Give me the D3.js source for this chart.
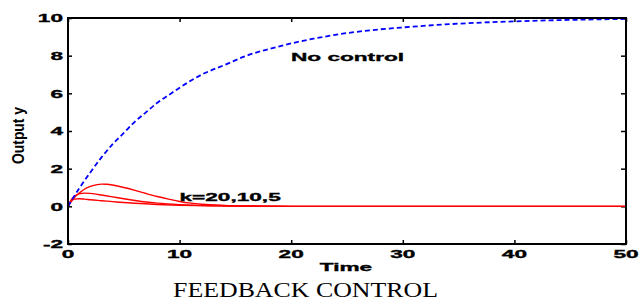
<!DOCTYPE html>
<html>
<head>
<meta charset="utf-8">
<script src="https://cdn.jsdelivr.net/npm/d3@7"></script>
<style>
  body { margin: 0; background: #fff; }
  svg { display: block; }
</style>
</head>
<body>
<div id="chart"></div>
<script>
// data
var noCtrlT = [0, 1, 2, 3, 4, 5, 6, 7, 8, 9, 10, 12, 14, 16, 18, 20, 22, 25, 28, 30, 35, 40, 45, 50];
var noCtrlY = [0, 0.95, 1.8, 2.6, 3.3, 3.9, 4.5, 5.0, 5.5, 5.9, 6.3, 7.0, 7.5, 8.0, 8.35, 8.65, 8.9, 9.2, 9.4, 9.5, 9.7, 9.82, 9.9, 9.95];

var k20T = [0, 0.5, 1, 1.5, 2, 2.5, 3, 3.5, 4, 5, 6, 7, 8, 9, 10, 11, 12, 14, 16, 18, 20, 30, 40, 50];
var k20Y = [0, 0.42, 0.7, 0.92, 1.06, 1.14, 1.18, 1.17, 1.13, 1.0, 0.85, 0.68, 0.52, 0.38, 0.26, 0.17, 0.11, 0.05, 0.02, 0.01, 0, 0, 0, 0];

var k10T = [0, 0.3, 0.6, 1, 1.5, 2, 2.5, 3, 4, 5, 6, 7, 8, 10, 12, 14, 16, 20, 50];
var k10Y = [0, 0.35, 0.55, 0.66, 0.70, 0.69, 0.65, 0.6, 0.5, 0.4, 0.31, 0.23, 0.17, 0.09, 0.04, 0.02, 0.01, 0, 0];

var k5T = [0, 0.3, 0.6, 1, 1.5, 2, 3, 4, 5, 6, 8, 10, 12, 15, 20, 50];
var k5Y = [0, 0.3, 0.38, 0.40, 0.38, 0.35, 0.3, 0.25, 0.2, 0.16, 0.1, 0.06, 0.04, 0.02, 0, 0];

var xTicks = [0, 10, 20, 30, 40, 50];
var yTicks = [-2, 0, 2, 4, 6, 8, 10];

var svgWidth = 639;
var svgHeight = 302;
var margin = {top: 18, right: 13, bottom: 58, left: 68};
var width = svgWidth - margin.left - margin.right;
var height = svgHeight - margin.top - margin.bottom;

var svg = d3.select("#chart").append("svg")
    .attr("width", svgWidth).attr("height", svgHeight);
svg.append("rect").attr("width", svgWidth).attr("height", svgHeight).attr("fill", "#fff");

var chartGroup = svg.append("g").attr("transform", `translate(${margin.left}, ${margin.top})`);

var x = d3.scaleLinear().domain([0, 50]).range([0, width]);
var y = d3.scaleLinear().domain([-2, 10]).range([height, 0]);

// ticks point inwards on all four sides
function tickAxis(axis, tr) {
    var g = chartGroup.append("g").attr("transform", tr).call(axis);
    g.select(".domain").remove();
    g.selectAll("line").attr("stroke", "#000").attr("stroke-width", 1.5);
    g.selectAll("text").remove();
}
tickAxis(d3.axisBottom(x).tickValues(xTicks).tickSize(-4), `translate(0, ${height})`);
tickAxis(d3.axisTop(x).tickValues(xTicks).tickSize(-4), "translate(0,0)");
tickAxis(d3.axisLeft(y).tickValues(yTicks).tickSize(-4), "translate(0,0)");
tickAxis(d3.axisRight(y).tickValues(yTicks).tickSize(-5), `translate(${width},0)`);

// curves
var line = d3.line().x(d => x(d[0])).y(d => y(d[1])).curve(d3.curveMonotoneX);

function drawCurve(ts, ys, color, w, dash) {
    var p = chartGroup.append("path")
        .datum(d3.zip(ts, ys))
        .attr("fill", "none")
        .attr("stroke", color)
        .attr("stroke-width", w)
        .attr("d", line);
    if (dash) p.attr("stroke-dasharray", dash);
}
drawCurve(k5T, k5Y, "#ff0000", 1.4);
drawCurve(k10T, k10Y, "#ff0000", 1.4);
drawCurve(k20T, k20Y, "#ff0000", 1.4);
drawCurve(noCtrlT, noCtrlY, "#0000ff", 1.8, "5,3");

// frame
chartGroup.append("rect")
    .attr("width", width).attr("height", height)
    .attr("fill", "none").attr("stroke", "#000").attr("stroke-width", 2);

// wide heavy labels, like the stretched matlab print
function boldText(txt, px, py, anchor) {
    svg.append("text")
        .attr("transform", `translate(${px},${py}) scale(1.95,1)`)
        .attr("text-anchor", anchor)
        .attr("font-family", "Liberation Sans, Arial, sans-serif")
        .attr("font-weight", "bold")
        .attr("font-size", 11.6)
        .attr("fill", "#000")
        .attr("stroke", "#000")
        .attr("stroke-width", 0.35)
        .text(txt);
}

yTicks.forEach(function(v) {
    boldText(v, 63, margin.top + y(v) + 4.2, "end");
});
xTicks.forEach(function(v) {
    boldText(v, margin.left + x(v), 257.5, "middle");
});

boldText("Time", 346, 271, "middle");
boldText("No control", 291, 60.5, "start");
boldText("k=20,10,5", 179.5, 200.7, "start");

svg.append("text")
    .attr("transform", "translate(24,135.5) rotate(-90) scale(1,1.24)")
    .attr("text-anchor", "middle")
    .attr("font-family", "Liberation Sans, Arial, sans-serif")
    .attr("font-weight", "bold")
    .attr("font-size", 13.5)
    .attr("textLength", 57)
    .attr("lengthAdjust", "spacingAndGlyphs")
    .text("Output y");

svg.append("text")
    .attr("x", 305.5).attr("y", 296.7)
    .attr("text-anchor", "middle")
    .attr("font-family", "Liberation Serif, Times New Roman, serif")
    .attr("font-size", 21)
    .attr("textLength", 265)
    .attr("lengthAdjust", "spacingAndGlyphs")
    .text("FEEDBACK CONTROL");
</script>
</body>
</html>
